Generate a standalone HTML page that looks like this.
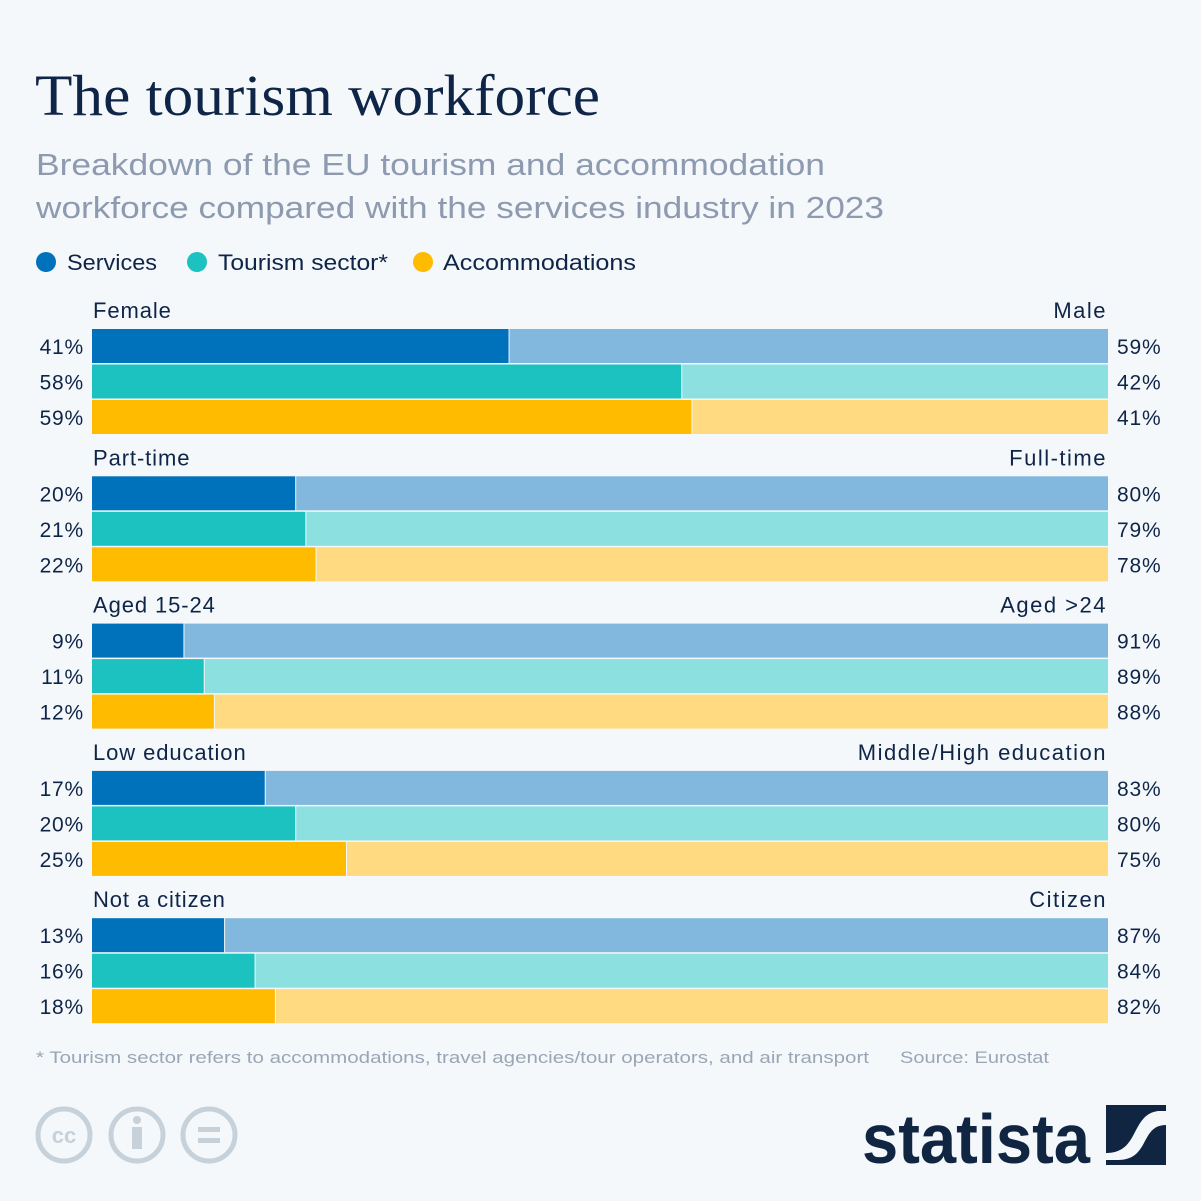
<!DOCTYPE html>
<html><head><meta charset="utf-8">
<style>
body{margin:0;background:#f4f8fb;}
svg{display:block;font-family:"Liberation Sans",sans-serif;}
</style></head>
<body>
<svg id="chart" width="1201" height="1201" viewBox="0 0 1201 1201">
<rect width="1201" height="1201" fill="#f4f8fb"/>
<text x="35" y="115" font-family="Liberation Serif,serif" font-size="58" fill="#0f2548" textLength="565" lengthAdjust="spacingAndGlyphs">The tourism workforce</text>
<text x="36" y="175" font-size="31" fill="#8e9aaf" textLength="789" lengthAdjust="spacingAndGlyphs">Breakdown of the EU tourism and accommodation</text>
<text x="36" y="218" font-size="31" fill="#8e9aaf" textLength="848" lengthAdjust="spacingAndGlyphs">workforce compared with the services industry in 2023</text>
<g font-size="22" fill="#0f2548">
<circle cx="46" cy="262" r="10" fill="#0072bc"/>
<text x="67" y="270" textLength="90" lengthAdjust="spacingAndGlyphs">Services</text>
<circle cx="197" cy="262" r="10" fill="#1cc2c0"/>
<text x="218" y="270" textLength="170" lengthAdjust="spacingAndGlyphs">Tourism sector*</text>
<circle cx="423" cy="262" r="10" fill="#ffbb00"/>
<text x="443" y="270" textLength="193" lengthAdjust="spacingAndGlyphs">Accommodations</text>
</g>
<g id="bars"></g>
<text x="36" y="1063" font-size="17" fill="#9aa5b5" textLength="833" lengthAdjust="spacingAndGlyphs">* Tourism sector refers to accommodations, travel agencies/tour operators, and air transport</text>
<text x="900" y="1063" font-size="17" fill="#9aa5b5" textLength="149" lengthAdjust="spacingAndGlyphs">Source: Eurostat</text>
<g fill="none" stroke="#c6d1da" stroke-width="5">
<circle cx="64" cy="1135" r="26"/><circle cx="137" cy="1135" r="26"/><circle cx="209" cy="1135" r="26"/>
<text x="64" y="1143" font-size="22" font-weight="bold" fill="#c6d1da" stroke="none" text-anchor="middle">cc</text>
<circle cx="137" cy="1120" r="4" fill="#c6d1da" stroke="none"/>
<rect x="132" y="1127" width="10" height="22" fill="#c6d1da" stroke="none"/>
<rect x="198" y="1127" width="22" height="5" fill="#c6d1da" stroke="none"/>
<rect x="198" y="1138" width="22" height="5" fill="#c6d1da" stroke="none"/>
</g>
<g>
<text x="862" y="1163" font-size="70" font-weight="bold" fill="#0f2541" textLength="228" lengthAdjust="spacingAndGlyphs">statista</text>
<rect x="1106" y="1105" width="60" height="60" fill="#0f2541"/>
<path d="M1106 1153 C1140 1153 1130 1115 1158 1111 L1166 1111 L1166 1125 C1140 1125 1150 1160 1118 1160 L1106 1160 Z" fill="#f4f8fb"/>
</g>
</svg>
<script>
const groups = ["Female","Part-time","Aged 15-24","Low education","Not a citizen"];
const rightLabels = ["Male","Full-time","Aged >24","Middle/High education","Citizen"];
const services = [41,20,9,17,13];
const tourism = [58,21,11,20,16];
const accommodations = [59,22,12,25,18];
const seriesNames = ["services","tourism","accommodations"];
const dark = ["#0072bc","#1cc2c0","#ffbb00"];
const light = ["#82b8de","#8ce0e0","#ffda80"];
const X0 = 92, W = 1016;
function xs(v){return X0 + v/100*W;}
function gy(i){return 329 + i*147.3;}
const NS="http://www.w3.org/2000/svg";
const g=document.getElementById('bars');
function mk(tag,attrs,txt){const e=document.createElementNS(NS,tag);for(const k in attrs)e.setAttribute(k,attrs[k]);if(txt!==undefined)e.textContent=txt;g.appendChild(e);return e;}
const all=[services,tourism,accommodations];
groups.forEach((name,i)=>{
  const top=gy(i);
  let t=mk('text',{x:93,y:top-11,'font-size':22,fill:'#0f2548','letter-spacing':'0.9'},name);
  
  
  t=mk('text',{x:1107,y:top-11,'font-size':22,fill:'#0f2548','text-anchor':'end','letter-spacing':'1.5'},rightLabels[i]);
  
  
  all.forEach((arr,s)=>{
    const v=arr[i], y=top+s*35.5;
    let r=mk('rect',{x:X0,y:y,width:xs(v)-X0,height:34,fill:dark[s]});
    
    
    r=mk('rect',{x:xs(v)+1,y:y,width:X0+W-xs(v)-1,height:34,fill:light[s]});
    
    
    t=mk('text',{x:84,y:y+25,'font-size':21,fill:'#0f2548','text-anchor':'end','letter-spacing':'0.8'},v+'%');
    
    
    t=mk('text',{x:1117,y:y+25,'font-size':21,fill:'#0f2548','letter-spacing':'0.8'},(100-v)+'%');
    
    
  });
});
</script>
</body></html>
